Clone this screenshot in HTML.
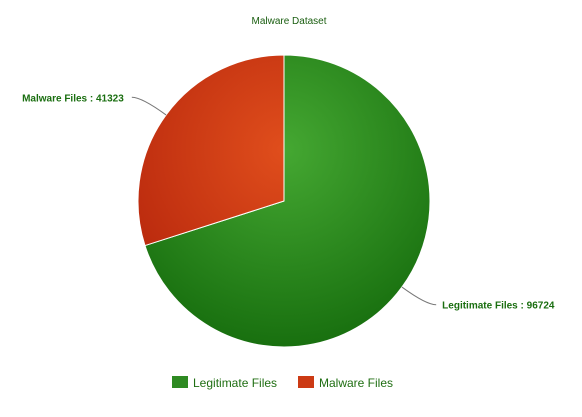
<!DOCTYPE html>
<html><head><meta charset="utf-8"><style>
html,body{margin:0;padding:0;background:#fff;}
svg{display:block;font-family:"Liberation Sans",sans-serif;}
</style></head><body>
<svg id="chart" width="582" height="417">
<defs>
<radialGradient id="gGreen" cx="284" cy="150" r="220" gradientUnits="userSpaceOnUse"><stop offset="0" stop-color="#45a832"/><stop offset="1" stop-color="#13690b"/></radialGradient>
<radialGradient id="gRed" cx="284" cy="150" r="220" gradientUnits="userSpaceOnUse"><stop offset="0" stop-color="#e04e1c"/><stop offset="1" stop-color="#b0200a"/></radialGradient>
</defs>
<text x="289" y="24" font-size="10" fill="#1a5e10" text-anchor="middle">Malware Dataset</text>
<g id="slices"></g>
<g id="legend"></g>
</svg>
<script>
const categories = ["Legitimate Files", "Malware Files"];
const values = [96724, 41323];
const fills = ["url(#gGreen)", "url(#gRed)"];
const swatch = ["#2e8a22", "#cc3a14"];
const NS = "http://www.w3.org/2000/svg";
const cx = 284, cy = 201, r = 146;
const total = values.reduce((a,b)=>a+b,0);
const g = document.getElementById('slices');
function pt(a, rr){ return [cx + rr*Math.sin(a), cy - rr*Math.cos(a)]; }
let start = 0;
values.forEach((v,i)=>{
  const sweep = v/total*2*Math.PI;
  const a0 = start, a1 = start + sweep;
  const p0 = pt(a0,r), p1 = pt(a1,r);
  const path = document.createElementNS(NS,'path');
  path.setAttribute('d', `M${cx},${cy} L${p0[0]},${p0[1]} A${r},${r} 0 ${sweep>Math.PI?1:0} 1 ${p1[0]},${p1[1]} Z`);
  path.setAttribute('fill', fills[i]);
  path.setAttribute('stroke', '#fff');
  path.setAttribute('stroke-width', '1');
  
  
  g.appendChild(path);
  const mid = (a0+a1)/2;
  const e = pt(mid, r), m = pt(mid, r+30);
  const right = Math.sin(mid) >= 0;
  const ex = m[0] + (right ? 10 : -10);
  const line = document.createElementNS(NS,'path');
  line.setAttribute('d', `M${e[0]},${e[1]} Q${m[0]},${m[1]} ${ex},${m[1]}`);
  line.setAttribute('fill','none');
  line.setAttribute('stroke','#777');
  line.setAttribute('stroke-width','1');
  
  
  g.appendChild(line);
  const t = document.createElementNS(NS,'text');
  t.setAttribute('x', ex + (right ? 6 : -8));
  t.setAttribute('y', m[1] + 4);
  t.setAttribute('font-size','10');
  t.setAttribute('font-weight','bold');
  t.setAttribute('fill','#1a6e10');
  t.setAttribute('text-anchor', right ? 'start' : 'end');
  t.textContent = categories[i] + ' : ' + v;
  
  
  g.appendChild(t);
  start = a1;
});
const lg = document.getElementById('legend');
const lx = [172, 298];
categories.forEach((c,i)=>{
  const item = document.createElementNS(NS,'g');
  
  
  const rc = document.createElementNS(NS,'rect');
  rc.setAttribute('x', lx[i]); rc.setAttribute('y', 376);
  rc.setAttribute('width', 16); rc.setAttribute('height', 12);
  rc.setAttribute('fill', swatch[i]);
  
  
  item.appendChild(rc);
  const t = document.createElementNS(NS,'text');
  t.setAttribute('x', lx[i]+21); t.setAttribute('y', 387);
  t.setAttribute('font-size','12'); t.setAttribute('fill','#1f6e12');
  t.textContent = c;
  
  
  item.appendChild(t);
  lg.appendChild(item);
});
</script>
</body></html>
